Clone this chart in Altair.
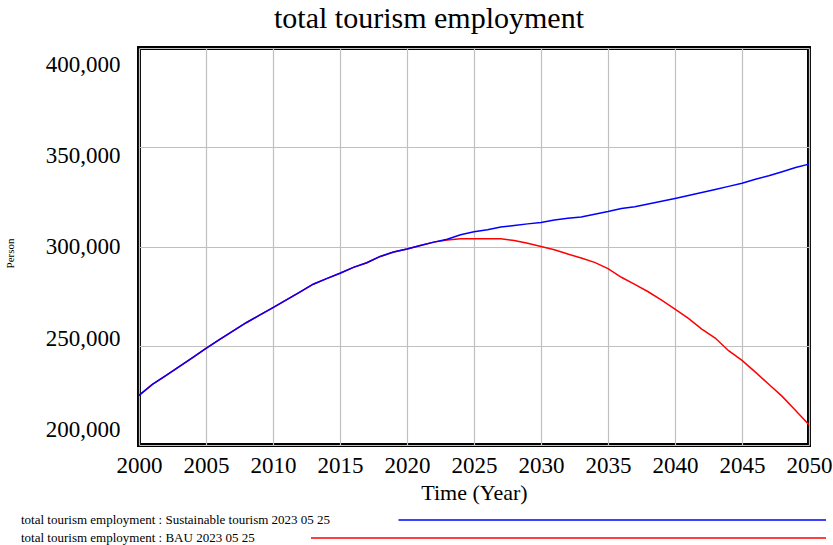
import altair as alt
import pandas as pd

years = list(range(2000, 2051))

sustainable = [
    225000, 230500, 235000, 239500, 244000, 248700, 253100, 257400, 261600, 265400,
    269200, 273100, 277000, 281000, 283800, 286500, 289500, 291800, 295000, 297200,
    298700, 300500, 302200, 303700, 305900, 307400, 308400, 309800, 310600, 311400,
    312100, 313400, 314200, 314900, 316300, 317600, 319100, 320000, 321400, 322800,
    324200, 325700, 327200, 328700, 330300, 331900, 333900, 335600, 337700, 339800,
    341500,
]

bau = [
    225000, 230500, 235000, 239500, 244000, 248700, 253100, 257400, 261600, 265400,
    269200, 273100, 277000, 281000, 283800, 286500, 289500, 291800, 295000, 297200,
    298700, 300500, 302200, 303300, 303900, 303900, 303900, 303900, 303000, 301600,
    300000, 298400, 296200, 294200, 292000, 288900, 284500, 280900, 277200, 273000,
    268500, 263800, 258400, 253900, 247500, 242600, 236700, 230600, 224500, 217400,
    210200,
]

series_names = [
    "total tourism employment : Sustainable tourism 2023 05 25",
    "total tourism employment : BAU 2023 05 25",
]
x_ticks = list(range(2000, 2051, 5))
y_ticks = [200000, 250000, 300000, 350000, 400000]

df = pd.DataFrame({
    "year": years * 2,
    "value": sustainable + bau,
    "series": ["sustainable"] * len(years) + ["bau"] * len(years),
})

FONT = "Liberation Serif"

x_enc = alt.X(
    "year:Q",
    scale=alt.Scale(domain=[2000, 2050], nice=False, zero=False),
    axis=alt.Axis(
        values=x_ticks, format="d", grid=True, gridColor="#c0c0c0", gridWidth=1.2,
        ticks=False, domain=False, labelFont=FONT, labelFontSize=23, labelColor="black",
        labelPadding=9, labelFlush=False, labelOverlap=False,
        title="Time (Year)", titleFont=FONT, titleFontSize=22, titleFontWeight="normal",
        titleColor="black", titleY=47, titleBaseline="middle",
    ),
)

y_grid = alt.Y(
    "value:Q",
    scale=alt.Scale(domain=[200000, 400000], nice=False, zero=False),
    axis=alt.Axis(
        values=y_ticks, grid=True, gridColor="#c0c0c0", gridWidth=1.2, labels=False,
        ticks=False, domain=False, title=None, orient="left",
    ),
)

base = alt.Chart(df)

red = base.transform_filter(alt.datum.series == "bau").mark_line(
    color="#ff0000", strokeWidth=1.5
).encode(x=x_enc, y=y_grid)

blue = base.transform_filter(alt.datum.series == "sustainable").mark_line(
    color="#0000ff", strokeWidth=1.5
).encode(x=alt.X("year:Q"), y=alt.Y("value:Q"))

lines = alt.layer(red, blue)

label_layer = base.transform_filter(alt.datum.series == "sustainable").mark_line(
    opacity=0
).encode(
    x=alt.X("year:Q"),
    y=alt.Y(
        "value:Q",
        scale=alt.Scale(domain=[191500, 408870], nice=False, zero=False),
        axis=alt.Axis(
            values=y_ticks, format=",d", grid=False, ticks=False, domain=False,
            labelFont=FONT, labelFontSize=23, labelColor="black", labelPadding=19,
            orient="left", title="Person", titleFont=FONT, titleFontSize=11,
            titleFontWeight="normal", titleColor="black", titleX=-129, titleY=205,
            titleBaseline="middle", titleAngle=270,
        ),
    ),
)

one = pd.DataFrame({"t": [0]})

leg_text1 = alt.Chart(pd.DataFrame({"t": [series_names[0]]})).mark_text(
    align="left", baseline="middle", font=FONT, fontSize=13, color="black"
).encode(x=alt.value(-118), y=alt.value(472), text="t:N")

leg_text2 = alt.Chart(pd.DataFrame({"t": [series_names[1]]})).mark_text(
    align="left", baseline="middle", font=FONT, fontSize=13, color="black"
).encode(x=alt.value(-118), y=alt.value(490), text="t:N")

leg_rule1 = alt.Chart(one).mark_rule(color="#0000ff", strokeWidth=1.5).encode(
    x=alt.value(259.5), x2=alt.value(687), y=alt.value(472)
)
leg_rule2 = alt.Chart(one).mark_rule(color="#ff0000", strokeWidth=1.5).encode(
    x=alt.value(172), x2=alt.value(687), y=alt.value(490)
)

chart = alt.layer(
    lines, label_layer, leg_text1, leg_text2, leg_rule1, leg_rule2
).resolve_scale(y="independent").properties(
    width=670,
    height=397,
    autosize="none",
    background="white",
    padding={"left": 139, "top": 48, "right": 24, "bottom": 100},
    title=alt.TitleParams(
        "total tourism employment", font=FONT, fontSize=30, fontWeight="normal",
        color="black", anchor="middle", frame="group", dx=-45, dy=33,
        baseline="alphabetic", offset=23,
    ),
).configure_view(
    stroke="black", strokeWidth=4
)

chart.save("out.html", embed_options={"renderer": "svg", "actions": False})
